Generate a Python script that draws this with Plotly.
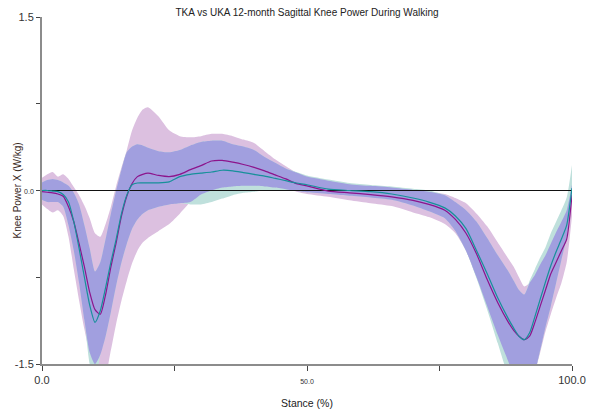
import numpy as np
import plotly.graph_objects as go

# Percent of stance phase
stance = [0, 1, 2, 3, 4, 5, 6, 7, 8, 9, 10, 11, 12, 13, 14, 15, 16, 17, 18, 19, 20,
          22, 24, 26, 28, 30, 32, 34, 36, 38, 40, 42, 44, 46, 48, 50, 54, 58, 62, 66,
          70, 73, 76, 78, 80, 82, 84, 86, 88, 89, 90, 91, 92, 93, 94, 95, 96, 97, 98,
          99, 100]

# TKA group: mean and +/- 1 SD envelope (W/kg)
tka_mean = [-0.01, -0.015, -0.02, -0.03, -0.05, -0.14, -0.27, -0.46, -0.66, -0.88, -1.03,
            -1.07, -0.90, -0.66, -0.45, -0.22, -0.05, 0.06, 0.12, 0.14, 0.15,
            0.13, 0.12, 0.14, 0.18, 0.215, 0.255, 0.26, 0.245, 0.225, 0.20, 0.17, 0.135,
            0.10, 0.06, 0.04, -0.005, -0.02, -0.035, -0.055,
            -0.085, -0.12, -0.17, -0.25, -0.37, -0.55, -0.77, -0.97, -1.14, -1.21, -1.26,
            -1.29, -1.26, -1.14, -1.0, -0.86, -0.72, -0.62, -0.52, -0.42, -0.04]
tka_upper = [0.11, 0.14, 0.16, 0.12, 0.14, 0.10, 0.03, -0.04, -0.13, -0.24, -0.37,
             -0.40, -0.29, -0.14, 0.04, 0.20, 0.35, 0.52, 0.63, 0.70, 0.72,
             0.64, 0.52, 0.47, 0.46, 0.47, 0.49, 0.49, 0.47, 0.44, 0.41, 0.34, 0.27,
             0.21, 0.155, 0.12, 0.085, 0.055, 0.04, 0.025,
             0.005, -0.01, -0.03, -0.065, -0.11, -0.20, -0.31, -0.45, -0.59, -0.66, -0.75,
             -0.83, -0.80, -0.73, -0.64, -0.56, -0.46, -0.36, -0.27, -0.17, 0.05]
tka_lower = [-0.12, -0.16, -0.19, -0.17, -0.22, -0.40, -0.68, -0.95, -1.20, -1.40, -1.50,
             -1.58, -1.58, -1.38, -1.15, -0.95, -0.78, -0.63, -0.52, -0.45, -0.41,
             -0.35, -0.29, -0.20, -0.10, -0.035, 0.0, 0.025, 0.035, 0.04, 0.04, 0.035, 0.025,
             0.01, -0.01, -0.03, -0.055, -0.085, -0.11, -0.135,
             -0.19, -0.23, -0.29, -0.37, -0.52, -0.75, -1.0, -1.25, -1.48, -1.6, -1.65,
             -1.65, -1.62, -1.56, -1.40, -1.22, -1.07, -0.93, -0.80, -0.62, -0.22]

# UKA group: mean and +/- 1 SD envelope (W/kg)
uka_mean = [0.0, 0.0, -0.005, -0.01, -0.035, -0.10, -0.27, -0.50, -0.75, -0.99, -1.14,
            -1.04, -0.84, -0.62, -0.42, -0.20, -0.04, 0.05, 0.065, 0.066, 0.066,
            0.066, 0.075, 0.12, 0.14, 0.15, 0.16, 0.175, 0.17, 0.155, 0.14, 0.125, 0.105,
            0.085, 0.065, 0.05, 0.012, 0.0, -0.01, -0.03,
            -0.065, -0.10, -0.15, -0.22, -0.33, -0.52, -0.72, -0.93, -1.11, -1.19, -1.26,
            -1.29, -1.23, -1.09, -0.94, -0.79, -0.65, -0.53, -0.42, -0.30, 0.02]
uka_upper = [0.07, 0.09, 0.10, 0.09, 0.07, 0.04, -0.02, -0.12, -0.30, -0.50, -0.70,
             -0.62, -0.42, -0.20, 0.0, 0.18, 0.33, 0.38, 0.40, 0.39, 0.37,
             0.34, 0.33, 0.35, 0.39, 0.42, 0.43, 0.43, 0.40, 0.38, 0.35, 0.29, 0.24,
             0.19, 0.16, 0.13, 0.095, 0.065, 0.048, 0.035,
             0.015, 0.0, -0.04, -0.10, -0.17, -0.27, -0.41, -0.56, -0.70, -0.78, -0.86,
             -0.90, -0.78, -0.68, -0.58, -0.49, -0.37, -0.27, -0.17, -0.06, 0.22]
uka_lower = [-0.08, -0.10, -0.10, -0.10, -0.14, -0.30, -0.52, -0.80, -1.12, -1.50, -1.65,
             -1.42, -1.26, -1.05, -0.82, -0.62, -0.46, -0.33, -0.25, -0.20, -0.17,
             -0.14, -0.12, -0.11, -0.12, -0.12, -0.10, -0.07, -0.04, -0.02, -0.01, 0.0, 0.005,
             0.0, -0.005, -0.015, -0.03, -0.045, -0.06, -0.08,
             -0.13, -0.18, -0.24, -0.35, -0.52, -0.76, -1.03, -1.32, -1.6, -1.65, -1.65,
             -1.65, -1.62, -1.56, -1.38, -1.18, -1.0, -0.8, -0.6, -0.4, 0.0]

x_ticks = [0, 25, 50, 75, 100]
x_ticktext = ["0.0", "", "<span style='font-size:7px'>50.0</span>", "", "100.0"]
y_ticks = [-1.5, -0.75, 0, 0.75, 1.5]
y_ticktext = ["-1.5", "", "<span style='font-size:7px'>0.0</span>", "", "1.5"]

TKA_BAND = "#dcc0e0"
UKA_BAND = "#bfe0dc"
BOTH_BAND = "#a19fdf"
TKA_LINE = "#8c148c"
UKA_LINE = "#17909a"
FONT = "Liberation Sans, Arial, sans-serif"

# Region where the two envelopes overlap
overlap_upper = np.minimum(tka_upper, uka_upper)
overlap_lower = np.maximum(tka_lower, uka_lower)
overlap_upper = np.maximum(overlap_upper, overlap_lower)

fig = go.Figure()


def add_band(lower, upper, color):
    fig.add_trace(go.Scatter(x=stance, y=list(lower), mode="lines",
                             line=dict(width=0, shape="spline", smoothing=0.6),
                             hoverinfo="skip", showlegend=False))
    fig.add_trace(go.Scatter(x=stance, y=list(upper), mode="lines", fill="tonexty",
                             fillcolor=color,
                             line=dict(width=0, shape="spline", smoothing=0.6),
                             hoverinfo="skip", showlegend=False))


add_band(tka_lower, tka_upper, TKA_BAND)
add_band(uka_lower, uka_upper, UKA_BAND)
add_band(overlap_lower, overlap_upper, BOTH_BAND)

# zero reference line across the stance range
fig.add_trace(go.Scatter(x=[stance[0], stance[-1]], y=[0, 0], mode="lines",
                         line=dict(color="#111111", width=1), hoverinfo="skip",
                         showlegend=False))

fig.add_trace(go.Scatter(x=stance, y=tka_mean, mode="lines", name="TKA",
                         line=dict(color=TKA_LINE, width=1.2, shape="spline", smoothing=0.6),
                         showlegend=False))
fig.add_trace(go.Scatter(x=stance, y=uka_mean, mode="lines", name="UKA",
                         line=dict(color=UKA_LINE, width=1.2, shape="spline", smoothing=0.6),
                         showlegend=False))

fig.update_layout(
    width=597, height=412,
    margin=dict(l=42, r=25, t=17, b=48),
    paper_bgcolor="white", plot_bgcolor="white",
    font=dict(family=FONT, size=11, color="#333333"),
    showlegend=False,
    title=dict(text="TKA vs UKA 12-month Sagittal Knee Power During Walking",
               x=307 / 597, xanchor="center", y=1 - 12 / 412, yanchor="middle",
               font=dict(family=FONT, size=10, color="#222222")),
    xaxis=dict(range=[0, 100], tickvals=x_ticks, ticktext=x_ticktext,
               showgrid=False, zeroline=False, showline=True,
               linecolor="#8c8c8c", linewidth=2, ticks="outside", ticklen=5,
               tickcolor="#444444", tickwidth=1, tickfont=dict(size=11, color="#333333"),
               fixedrange=True),
    yaxis=dict(range=[-1.5, 1.5], tickvals=y_ticks, ticktext=y_ticktext,
               showgrid=False, zeroline=False, showline=True,
               linecolor="#8c8c8c", linewidth=2, ticks="outside", ticklen=4,
               tickcolor="#444444", tickwidth=1, tickfont=dict(size=11, color="#333333"),
               fixedrange=True),
    annotations=[
        dict(text="Stance (%)", xref="paper", yref="paper", x=0.5, y=0,
             xanchor="center", yanchor="middle", yshift=-39, showarrow=False,
             font=dict(family=FONT, size=10.5, color="#222222")),
        dict(text="Knee Power X (W/kg)", xref="paper", yref="paper", x=0, y=0.5,
             xanchor="center", yanchor="middle", xshift=-25, textangle=-90,
             showarrow=False, font=dict(family=FONT, size=10, color="#3a2a1e")),
    ],
)

fig.write_html("out.html")
